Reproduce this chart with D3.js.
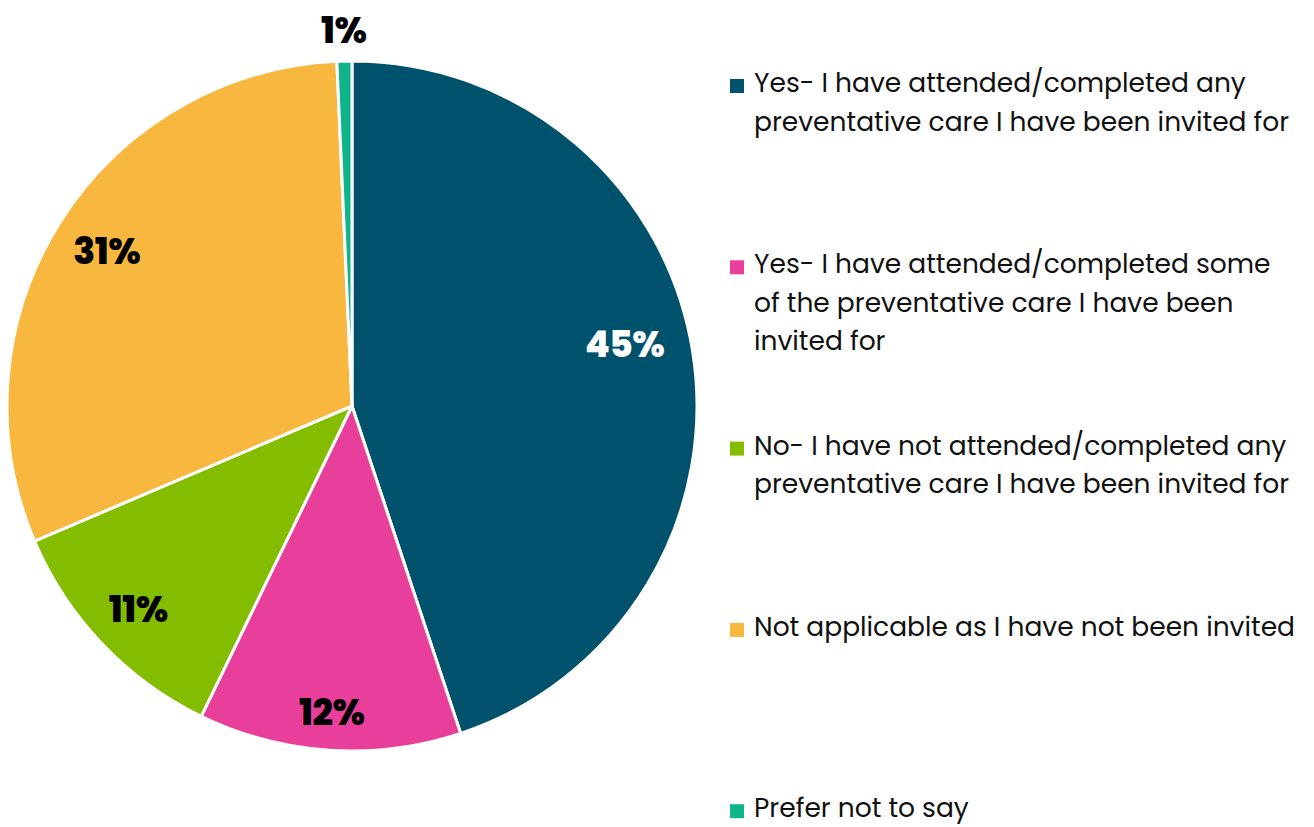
<!DOCTYPE html>
<html>
<head>
<meta charset="utf-8">
<script src="https://cdn.jsdelivr.net/npm/d3@7"></script>
<style>
  html, body { margin: 0; padding: 0; background: #fff; }
  svg { display: block; }
</style>
</head>
<body>
<svg id="chart" width="1314" height="827"></svg>
<script>
// Survey responses: attendance at invited preventative care
const categories = [
  ["Yes- I have attended/completed any", "preventative care I have been invited for"],
  ["Yes- I have attended/completed some", "of the preventative care I have been", "invited for"],
  ["No- I have not attended/completed any", "preventative care I have been invited for"],
  ["Not applicable as I have not been invited"],
  ["Prefer not to say"]
];
const shares = [44.9, 12.3, 11.4, 30.7, 0.7];
const colors = ["#00516B", "#E8409A", "#84BD00", "#F8B73F", "#0FB48A"];
const labelColors = ["#ffffff", "#000000", "#000000", "#000000", "#000000"];
// label placement: fraction of the radius, and angular nudge in degrees
const labelRadius = [0.81, 0.89, 0.855, 0.84, 1.09];
const labelNudge = [-3.5, 0, 0, 0, 0];

const svg = d3.select("#chart");
const cx = 352, cy = 406, r = 345;
const fontFamily = "Poppins, Inter, 'Open Sans', sans-serif";

const data = shares.map((v, i) => ({ i, v }));
const pie = d3.pie().value(d => d.v).sort(null);
const arcs = pie(data);
const arc = d3.arc().innerRadius(0).outerRadius(r);

const g = svg.append("g").attr("transform", `translate(${cx},${cy})`);

g.selectAll("path.slice")
  .data(arcs)
  .join("path")
  .attr("class", "slice")
  .attr("d", arc)
  .attr("fill", d => colors[d.data.i])
  .attr("stroke", "#ffffff")
  .attr("stroke-width", 3)
  .attr("stroke-linejoin", "round");

// Percentage labels (the tiny slice is labelled just outside the rim)
g.selectAll("text.pct")
  .data(arcs)
  .join("text")
  .attr("class", "pct")
  .attr("transform", d => {
    const rr = r * labelRadius[d.data.i];
    const a = (d.startAngle + d.endAngle) / 2 + labelNudge[d.data.i] * Math.PI / 180;
    return `translate(${rr * Math.sin(a)},${-rr * Math.cos(a)})`;
  })
  .attr("text-anchor", "middle")
  .attr("dominant-baseline", "central")
  .attr("font-family", fontFamily)
  .attr("font-weight", 800)
  .attr("font-size", 36)
  .attr("letter-spacing", -0.5)
  .attr("fill", d => labelColors[d.data.i])
  .text(d => Math.round(d.data.v) + "%");

// Legend
const legendX = 730, legendTop = 92, legendStep = 181.3, lineH = 38.6;
const legend = svg.append("g");
const items = legend.selectAll("g.item")
  .data(categories)
  .join("g")
  .attr("class", "item")
  .attr("transform", (d, i) => `translate(${legendX},${legendTop + i * legendStep})`);

items.append("rect")
  .attr("x", 0)
  .attr("y", -13)
  .attr("width", 14)
  .attr("height", 14)
  .attr("fill", (d, i) => colors[i]);

items.append("text")
  .attr("font-family", fontFamily)
  .attr("font-size", 26.5)
  .attr("fill", "#111")
  .selectAll("tspan")
  .data(d => d)
  .join("tspan")
  .attr("x", 24)
  .attr("y", (d, j) => j * lineH)
  .text(d => d);
</script>
</body>
</html>
